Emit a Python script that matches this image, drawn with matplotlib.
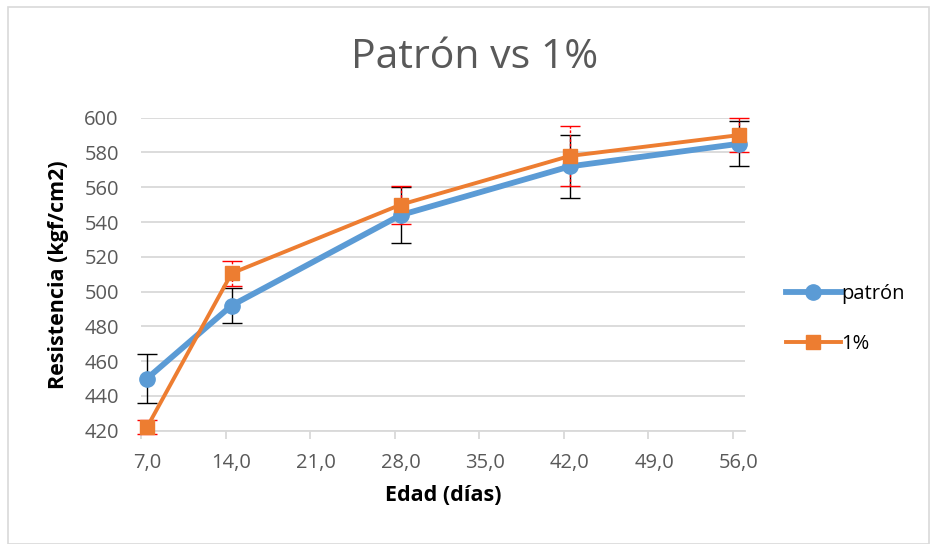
import matplotlib
matplotlib.use("Agg")
import matplotlib.pyplot as plt
from matplotlib.lines import Line2D
from matplotlib.patches import Rectangle
import numpy as np

plt.rcParams['font.family'] = ['Open Sans', 'DejaVu Sans']

edad = [7, 14, 28, 42, 56]
patron = [450, 492, 544, 572, 585]
patron_err = [14, 10, 16, 18, 13]
uno = [422, 510.5, 550, 578, 590]
uno_err = [4, 7, 11, 17, 10]
xtick_vals = [7, 14, 21, 28, 35, 42, 49, 56]
xtick_labels = ["7,0", "14,0", "21,0", "28,0", "35,0", "42,0", "49,0", "56,0"]
yticks = [420, 440, 460, 480, 500, 520, 540, 560, 580, 600]

BLUE = "#5B9BD5"
ORANGE = "#ED7D31"
GRAY_TXT = "#595959"
GRID = "#D9D9D9"

W, H = 930, 544
fig = plt.figure(figsize=(W / 100, H / 100), dpi=100)
ax = fig.add_axes([141 / W, 1 - 430.7 / H, (745 - 141) / W, (430.7 - 117.7) / H])

# error bars
ax.errorbar(edad, patron, yerr=patron_err, fmt='none', ecolor='black', elinewidth=1.0,
            capsize=7, capthick=1.0, zorder=2, clip_on=False)
eb = ax.errorbar(edad, uno, yerr=uno_err, fmt='none', ecolor='#FF0000', elinewidth=1.0,
                 capsize=7, capthick=1.0, zorder=2.1, clip_on=False)
for lc in eb[2]:
    lc.set_linestyle((0, (2, 1.2)))

ax.plot(edad, patron, color=BLUE, lw=4.2, marker='o', markersize=11, zorder=3,
        clip_on=False, solid_capstyle='round')
ax.plot(edad, uno, color=ORANGE, lw=2.8, marker='s', markersize=10, zorder=4,
        clip_on=False)

ax.set_xlim(6.5, 56.5)
ax.set_ylim(420, 600)

# major ticks at day boundaries (marks only), minor ticks for labels
ax.set_xticks([v - 0.5 for v in xtick_vals])
ax.set_xticklabels([])
ax.set_xticks(xtick_vals, minor=True)
ax.set_xticklabels(xtick_labels, minor=True)
ax.tick_params(axis='x', which='major', length=5.5, color=GRID, width=1.3, direction='out')
ax.tick_params(axis='x', which='minor', length=0, pad=16, labelsize=14.5, labelcolor=GRAY_TXT)
ax.set_yticks(yticks)
ax.tick_params(axis='y', length=0, pad=16, labelsize=14.5, labelcolor=GRAY_TXT)

ax.grid(axis='y', color=GRID, lw=1.3, zorder=0)
ax.set_axisbelow(True)
for s in ['left', 'right', 'top']:
    ax.spines[s].set_visible(False)
ax.spines['bottom'].set_color(GRID)
ax.spines['bottom'].set_linewidth(1.3)

ax.set_xlabel("Edad (días)", fontsize=15.5, fontweight='bold', color='black', labelpad=9)
ax.set_ylabel("Resistencia (kgf/cm2)", fontsize=15.5, fontweight='bold', color='black', labelpad=11)

fig.text(475 / W, 1 - 58 / H, "Patrón vs 1%", fontsize=29.5, color=GRAY_TXT,
         ha='center', va='center')

handles = [
    Line2D([], [], color=BLUE, lw=4.2, marker='o', markersize=11),
    Line2D([], [], color=ORANGE, lw=2.8, marker='s', markersize=10),
]
fig.legend(handles, ["patrón", "1%"], loc='center left',
           bbox_to_anchor=(768 / W, 1 - 319 / H), frameon=False, fontsize=14.5,
           handlelength=2.7, handletextpad=0.05, labelspacing=1.45, labelcolor='black')

fig.patches.append(Rectangle((8 / W, 0.5 / H), (W - 9) / W, (H - 7) / H,
                             transform=fig.transFigure, fill=False, edgecolor=GRID, lw=1.2))

fig.savefig("out.png", dpi=100)
